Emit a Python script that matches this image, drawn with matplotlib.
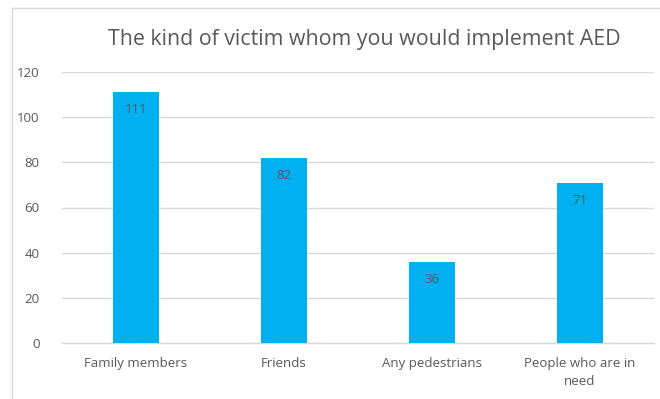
import matplotlib
matplotlib.use('Agg')
import matplotlib.pyplot as plt
from matplotlib.lines import Line2D

categories = ['Family members', 'Friends', 'Any pedestrians', 'People who are in\nneed']
counts = [111, 82, 36, 71]
yticks = [0, 20, 40, 60, 80, 100, 120]

plt.rcParams['font.family'] = ['Open Sans', 'DejaVu Sans']
textColor = '#595959'
gridColor = '#D9D9D9'

fig = plt.figure(figsize=(6.6, 3.99), dpi=100)
ax = fig.add_axes([62 / 660, 1 - 343 / 399, 592 / 660, (343 - 72) / 399])

xs = range(len(categories))
bars = ax.bar(xs, counts, width=0.31, color='#00B0F0', zorder=3)

# values just inside the top of each bar
for rect, v in zip(bars, counts):
    ax.annotate(str(v), (rect.get_x() + rect.get_width() / 2, v),
                xytext=(0, -8), textcoords='offset points',
                ha='center', va='top', fontsize=9.5, color=textColor, zorder=4)

ax.set_xlim(-0.5, len(categories) - 0.5)
ax.set_ylim(0, 120)
ax.set_yticks(yticks)
ax.set_xticks(list(xs))
ax.set_xticklabels(categories, linespacing=1.5)
ax.tick_params(axis='both', length=0, labelsize=9.5, labelcolor=textColor)
ax.tick_params(axis='y', pad=16)
ax.tick_params(axis='x', pad=10)
ax.grid(axis='y', color=gridColor, linewidth=1, zorder=0)
for side in ['top', 'right', 'left']:
    ax.spines[side].set_visible(False)
ax.spines['bottom'].set_color(gridColor)
ax.spines['bottom'].set_linewidth(1)

fig.text(364 / 660, 1 - 40 / 399, 'The kind of victim whom you would implement AED',
         ha='center', va='center', fontsize=15.4, color=textColor)

# chart outer border (only top and left visible in the crop)
bx = 12 / 660
by = 1 - 8 / 399
fig.add_artist(Line2D([bx, bx], [0, by], color=gridColor, linewidth=1, transform=fig.transFigure))
fig.add_artist(Line2D([bx, 1], [by, by], color=gridColor, linewidth=1, transform=fig.transFigure))

fig.savefig('out.png', dpi=100, facecolor='white')
